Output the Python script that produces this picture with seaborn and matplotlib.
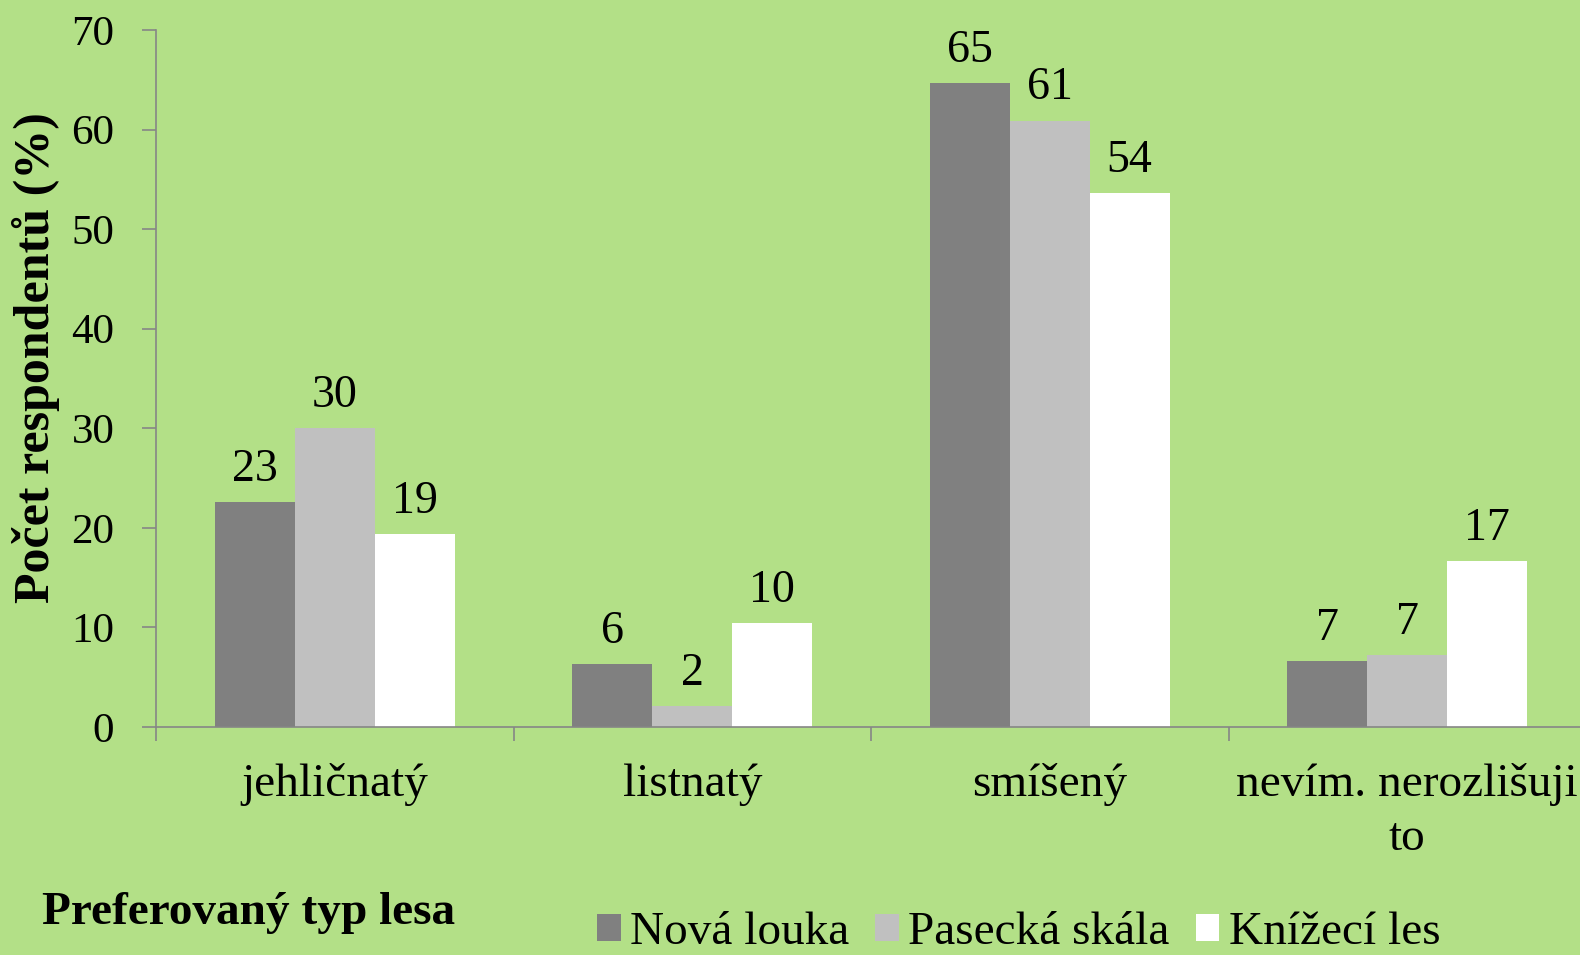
import matplotlib
matplotlib.use('Agg')
import matplotlib.pyplot as plt
import seaborn as sns
import pandas as pd

# data
typy = ['jehličnatý', 'listnatý', 'smíšený', 'nevím. nerozlišuji\nto']
lokality = ['Nová louka', 'Pasecká skála', 'Knížecí les']
nova_louka = [22.6, 6.3, 64.7, 6.6]
pasecka_skala = [30.0, 2.1, 60.9, 7.2]
knizeci_les = [19.4, 10.4, 53.6, 16.7]
barvy = ['#808080', '#C0C0C0', '#FFFFFF']

df = pd.DataFrame({
    'typ': typy * 3,
    'lokalita': [l for l in lokality for _ in typy],
    'procento': nova_louka + pasecka_skala + knizeci_les,
})

bg = '#B3E087'
sns.set_style('white')
plt.rcParams['font.family'] = ['Liberation Serif', 'DejaVu Serif']
plt.rcParams['text.color'] = 'black'
plt.rcParams['axes.labelcolor'] = 'black'

fig = plt.figure(figsize=(15.8, 9.55), dpi=100, facecolor=bg)
ax = fig.add_axes([156 / 1580, 1 - 727 / 955, (1586 - 156) / 1580, (727 - 30) / 955])
ax.set_facecolor(bg)

sns.barplot(data=df, x='typ', y='procento', hue='lokalita', order=typy,
            hue_order=lokality, palette=barvy, saturation=1, width=0.67,
            linewidth=0, ax=ax)

for c in ax.containers:
    ax.bar_label(c, fmt='%.0f', padding=8, fontsize=33, color='black')

ax.set_ylim(0, 70)
ax.set_xlim(-0.5, 3.5)
ax.set_yticks(range(0, 71, 10))
ax.tick_params(axis='y', labelsize=31, length=10, width=1.2, color='#868686',
               labelcolor='black', pad=20, direction='out', left=True)

# category boundaries as major ticks, names on minor ticks
ax.set_xticks([-0.5, 0.5, 1.5, 2.5, 3.5])
ax.set_xticklabels([])
ax.set_xticks(range(len(typy)), minor=True)
ax.set_xticklabels(typy, minor=True, fontsize=34, linespacing=1.35)
ax.tick_params(axis='x', which='major', length=10, width=1.2, color='#868686',
               direction='out', bottom=True)
ax.tick_params(axis='x', which='minor', length=0, pad=26, labelcolor='black')

for s in ['top', 'right']:
    ax.spines[s].set_visible(False)
for s in ['left', 'bottom']:
    ax.spines[s].set_color('#868686')
    ax.spines[s].set_linewidth(1.2)

ax.set_xlabel('')
ax.set_ylabel('Počet respondentů (%)', fontsize=36, fontweight='bold')
ax.yaxis.set_label_coords(-0.067, 0.53)

fig.text(42 / 1580, 1 - 913 / 955, 'Preferovaný typ lesa', fontsize=34,
         fontweight='bold', va='center', ha='left')

handles, labels = ax.get_legend_handles_labels()
ax.get_legend().remove()
fig.legend(handles, labels, loc='center left',
           bbox_to_anchor=(597 / 1580, 1 - 933 / 955), ncol=3, frameon=False,
           fontsize=34, handlelength=0.5, handleheight=0.5,
           handletextpad=0.2, columnspacing=0.55, borderpad=0,
           borderaxespad=0)

plt.savefig('out.png', dpi=100, facecolor=bg)
